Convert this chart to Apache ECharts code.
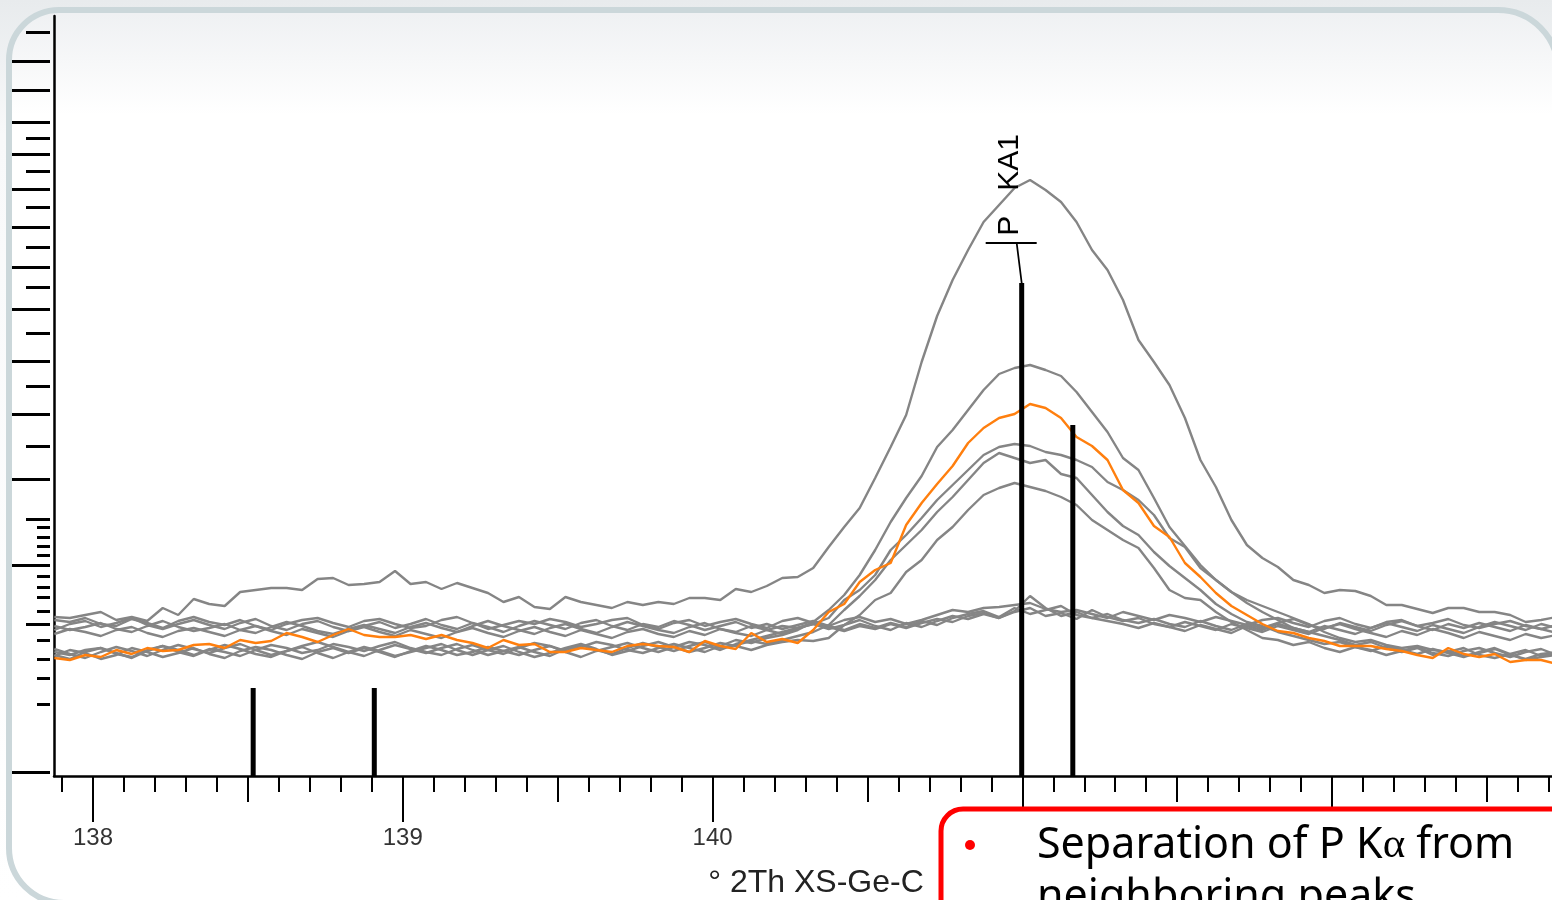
<!DOCTYPE html>
<html>
<head>
<meta charset="utf-8">
<script src="https://cdn.jsdelivr.net/npm/echarts@6/dist/echarts.min.js"></script>
<style>
  html, body { margin: 0; padding: 0; background: #ffffff; }
  #chart { width: 1552px; height: 900px; }
</style>
</head>
<body>
<div id="chart"></div>
<script>
// Scan definition (°2θ) – one intensity value per step
const scanStart = 137.875;
const scanStep = 0.05;

// Overlaid scans, intensity (linear scale)
const traceMain = [
  159,158,161,164,156,159,155,168,161,177,
  172,170,184,186,188,188,186,197,198,191,
  192,194,205,192,194,187,193,188,183,174,
  179,169,167,179,174,171,168,174,171,174,
  172,178,178,176,187,184,190,198,199,208,
  229,249,268,298,329,361,414,460,496,526,
  554,571,588,596,586,574,554,526,506,476,
  436,414,391,358,316,289,256,231,218,209,
  196,191,183,186,185,180,171,171,167,163,
  168,168,164,164,161,154,156,159
];
const traceOrange = [
  118,116,121,119,126,122,128,125,126,131,
  132,128,136,133,135,143,139,134,141,147,
  141,139,139,141,137,141,136,133,128,136,
  131,132,124,124,128,126,124,130,132,130,
  129,124,135,130,127,143,134,137,133,146,
  164,172,194,206,213,251,273,292,310,333,
  348,358,362,372,368,358,339,330,316,286,
  273,250,239,213,199,183,170,161,152,145,
  143,138,135,130,130,130,127,125,121,118,
  128,122,119,122,114,116,116,112
];
const traceSecond = [
  124,121,126,128,123,118,125,130,126,121,
  127,124,120,126,131,128,123,126,132,129,
  125,130,134,128,124,121,127,131,126,122,
  128,133,130,125,129,134,131,126,123,128,
  132,128,124,130,136,133,138,141,146,154,
  166,181,201,226,254,278,300,329,346,366,
  386,402,408,411,406,400,384,364,344,318,
  306,278,249,230,211,196,184,176,170,164,
  158,152,144,138,134,136,131,128,130,126,
  124,128,121,118,122,116,119,121
];
const traceLow1 = [
  120,126,123,117,121,128,124,119,123,128,
  122,118,125,129,126,121,117,124,128,123,
  128,124,119,125,130,126,121,124,129,125,
  121,126,130,124,119,125,129,133,128,124,
  129,134,131,126,132,136,140,144,148,152,
  158,176,186,201,226,241,258,276,291,306,
  321,329,332,330,324,321,316,309,294,286,
  276,261,238,229,208,196,184,173,164,156,
  148,144,140,136,131,134,128,124,128,121,
  125,120,123,127,121,117,122,124
];
const traceLow2 = [
  127,122,118,124,129,125,120,126,131,127,
  123,128,132,126,121,125,130,134,129,124,
  120,126,131,127,123,128,132,126,121,125,
  129,124,120,127,131,126,122,128,133,129,
  125,130,134,128,131,135,132,136,140,144,
  151,166,180,196,216,231,246,264,279,296,
  313,323,318,313,316,302,298,281,264,250,
  241,224,210,198,186,172,162,154,150,144,
  140,136,132,134,129,125,130,126,122,127,
  123,119,124,128,122,126,120,123
];
const traceLow3 = [
  121,117,124,128,122,119,126,130,124,120,
  126,131,127,122,119,125,129,123,118,124,
  129,125,120,124,128,132,126,121,126,130,
  124,119,123,128,132,127,121,125,130,134,
  129,124,128,133,130,126,131,134,136,135,
  138,151,161,176,183,204,216,236,249,266,
  281,288,293,289,285,279,271,256,246,236,
  228,208,186,178,176,164,154,146,138,136,
  131,134,128,124,129,126,121,125,129,123,
  120,125,128,123,119,124,127,121
];
const traceFlat1 = [
  156,154,158,152,150,157,153,148,155,159,
  154,151,156,150,146,152,156,158,153,149,
  155,157,152,148,150,156,159,153,147,151,
  155,152,157,154,149,152,156,158,151,147,
  153,156,150,154,157,152,148,155,158,153,
  150,156,159,154,157,152,156,161,166,164,
  168,169,171,173,167,164,166,162,158,164,
  160,156,161,158,154,159,155,151,156,158,
  153,149,155,158,152,148,154,156,150,153,
  157,151,148,152,155,150,147,151
];
const traceFlat2 = [
  150,146,149,153,147,144,150,155,149,145,
  148,152,146,143,149,154,150,145,142,147,
  151,147,143,149,153,148,144,150,155,150,
  146,142,148,152,147,143,149,154,150,146,
  143,149,153,147,144,150,146,142,148,153,
  149,145,150,147,152,148,153,157,154,160,
  163,158,165,180,168,160,164,158,155,152,
  148,153,149,145,151,147,143,150,146,152,
  148,144,150,146,142,148,153,149,145,151,
  147,143,149,154,150,146,152,148
];
const traceFlat3 = [
  146,152,155,149,153,158,151,147,152,156,
  151,147,153,157,150,146,152,155,149,145,
  150,154,148,152,157,151,147,153,149,144,
  150,155,151,147,153,156,150,146,152,149,
  155,151,146,150,154,148,152,147,151,155,
  150,146,152,148,153,149,155,151,158,162,
  165,159,168,162,166,170,161,158,162,156,
  153,157,152,149,155,150,146,152,148,153,
  157,151,147,153,149,145,151,155,150,146,
  152,148,153,149,145,151,147,143
];
const traceFlat4 = [
  142,147,144,140,146,149,143,139,145,148,
  144,140,146,150,145,141,147,143,139,145,
  149,144,140,146,142,138,144,148,143,139,
  145,149,144,140,146,142,138,144,147,142,
  139,145,141,147,143,140,146,150,148,152,
  147,151,156,150,146,153,149,155,160,157,
  162,158,164,168,160,163,157,166,159,155,
  158,152,149,154,150,146,152,148,144,150,
  146,142,148,152,147,143,139,145,141,147,
  143,138,144,140,136,142,138,141
];

// Reference pattern lines (position °2θ, relative height)
const stickPositions = [138.517, 138.908, 140.998, 141.163];
const stickHeights = [88, 88, 493, 351];
const peakLabelIndex = 2;
const peakLabelText = 'P   KA1';

// Axis ticks
const xMajorTicks = [138, 139, 140, 141, 142];
const xHalfTicks = [138.5, 139.5, 140.5, 141.5, 142.5];
const yTicksLong = [715, 686, 654, 622, 587, 549, 509, 467, 415, 362, 297, 211, 4];
const yTicksShort = [744, 638, 605, 569, 529, 489, 443, 390, 330, 257, 152];
const yTicksTiny = [249, 239, 230, 221, 200, 189, 179, 165, 136, 117, 98, 72];

const xTitle = '° 2Th XS-Ge-C';
const noteLine1 = 'Separation of P K{a|α} from';
const noteLine2 = 'neighboring peaks';

// ---------------------------------------------------------------
const xMin = 137.874, xMax = 142.71;
const yMin = 0, yMax = 760;

const angles = traceMain.map((_, i) => +(scanStart + i * scanStep).toFixed(3));
const xMinorTicks = [];
for (let k = 1379; k <= 1427; k++) {
  if (k % 5 !== 0) xMinorTicks.push(k / 10);
}

const grayScans = [traceSecond, traceLow1, traceLow2, traceLow3,
                   traceFlat1, traceFlat2, traceFlat3, traceFlat4, traceMain];

function lineSeries(values, color, z) {
  return {
    type: 'line',
    data: angles.map((a, i) => [a, values[i]]),
    showSymbol: false,
    symbol: 'none',
    lineStyle: { color: color, width: 2.4 },
    z: z,
    silent: true
  };
}

const series = grayScans.map(s => lineSeries(s, '#858585', 3));
series.push(lineSeries(traceOrange, '#ff7f0e', 4));

series.push({
  type: 'bar',
  data: stickPositions.map((p, i) => [p, stickHeights[i]]),
  barWidth: 5,
  itemStyle: { color: '#000000' },
  z: 5,
  silent: true
});

series.push({
  type: 'custom',
  data: [[stickPositions[peakLabelIndex], stickHeights[peakLabelIndex]]],
  z: 6,
  silent: true,
  renderItem: function (params, api) {
    const p = api.coord([api.value(0), api.value(1)]);
    const x = p[0], y = p[1];
    return {
      type: 'group',
      children: [
        { type: 'line', shape: { x1: x, y1: y, x2: x - 5, y2: y - 40 },
          style: { stroke: '#000', lineWidth: 1.8 } },
        { type: 'line', shape: { x1: x - 36, y1: y - 40, x2: x + 15, y2: y - 40 },
          style: { stroke: '#000', lineWidth: 2 } },
        { type: 'text', x: x - 12, y: y - 98, rotation: Math.PI / 2,
          style: { text: peakLabelText, fontSize: 30, fontFamily: 'Liberation Sans',
                   fill: '#000', align: 'center', verticalAlign: 'middle' } }
      ]
    };
  }
});

function tickAxisX(values, len, showLine, showLabel) {
  return {
    type: 'value', min: xMin, max: xMax, position: 'bottom',
    axisLine: { show: showLine, onZero: false, lineStyle: { color: '#000', width: 2.5 } },
    axisTick: { show: true, customValues: values, length: len, lineStyle: { color: '#000', width: 2 } },
    axisLabel: showLabel ? {
      show: true, customValues: values, margin: 50, fontSize: 24,
      fontFamily: 'Liberation Sans', color: '#333', formatter: v => String(v)
    } : { show: false },
    splitLine: { show: false }
  };
}

function tickAxisY(values, len) {
  return {
    type: 'value', min: yMin, max: yMax, position: 'left', offset: 4,
    axisLine: { show: false },
    axisTick: { show: true, customValues: values, length: len, lineStyle: { color: '#000', width: 3 } },
    axisLabel: { show: false },
    splitLine: { show: false }
  };
}

const mainX = tickAxisX(xMajorTicks, 46, true, true);
mainX.name = xTitle;
mainX.nameLocation = 'middle';
mainX.nameGap = 91;
mainX.nameTextStyle = { fontSize: 32, fontFamily: 'Liberation Sans', color: '#222', padding: [0, 0, 0, 26] };

const option = {
  animation: false,
  backgroundColor: '#ffffff',
  grid: { left: 54, right: 0, top: 16, bottom: 124, containLabel: false, outerBoundsMode: 'none' },
  xAxis: [
    mainX,
    tickAxisX(xHalfTicks, 26, false, false),
    tickAxisX(xMinorTicks, 16, false, false)
  ],
  yAxis: [
    {
      type: 'value', min: yMin, max: yMax, position: 'left',
      axisLine: { show: true, lineStyle: { color: '#000', width: 2.5 } },
      axisTick: { show: false }, axisLabel: { show: false }, splitLine: { show: false }
    },
    tickAxisY(yTicksLong, 38),
    tickAxisY(yTicksShort, 24),
    tickAxisY(yTicksTiny, 13)
  ],
  series: series,
  graphic: {
    elements: [
      {
        type: 'rect', z: -20, silent: true,
        shape: { x: 0, y: 0, width: 1552, height: 900 },
        style: { fill: new echarts.graphic.LinearGradient(0, 0, 0, 1, [
          { offset: 0, color: '#e8ebed' }, { offset: 0.15, color: '#f8f9fa' }, { offset: 1, color: '#ffffff' }]) }
      },
      {
        type: 'rect', z: -19, silent: true,
        shape: { x: 9, y: 10, width: 1549, height: 893, r: [50, 60, 60, 55] },
        style: {
          fill: new echarts.graphic.LinearGradient(0, 0, 0, 1, [
            { offset: 0, color: '#eef0f2' }, { offset: 0.12, color: '#ffffff' }, { offset: 1, color: '#ffffff' }]),
          stroke: '#cbd7da', lineWidth: 6
        }
      },
      {
        type: 'rect', z: 100, silent: true,
        shape: { x: 941, y: 809, width: 700, height: 200, r: 22 },
        style: { fill: '#ffffff', stroke: '#ff0000', lineWidth: 5 }
      },
      {
        type: 'circle', z: 101, silent: true,
        shape: { cx: 970, cy: 845, r: 5 },
        style: { fill: '#ff0000' }
      },
      {
        type: 'text', z: 101, silent: true, x: 1037, y: 846,
        style: {
          text: noteLine1, fontSize: 43, fontFamily: 'Noto Sans', fill: '#000',
          verticalAlign: 'middle', align: 'left',
          rich: { a: { fontSize: 43, fontFamily: 'Liberation Serif', fill: '#000' } }
        }
      },
      {
        type: 'text', z: 101, silent: true, x: 1037, y: 898,
        style: {
          text: noteLine2, fontSize: 43, fontFamily: 'Noto Sans', fill: '#000',
          verticalAlign: 'middle', align: 'left'
        }
      }
    ]
  }
};

const chart = echarts.init(document.getElementById('chart'), null, { renderer: 'canvas' });
chart.setOption(option);
</script>
</body>
</html>
